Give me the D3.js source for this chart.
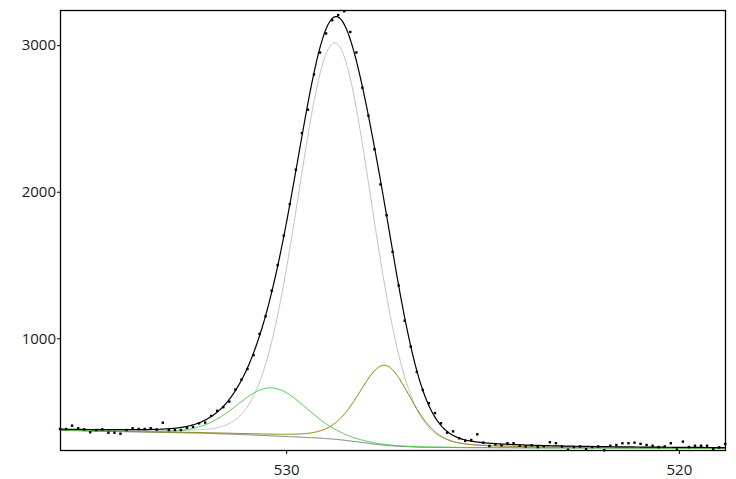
<!DOCTYPE html>
<html><head><meta charset="utf-8">
<script src="https://cdn.jsdelivr.net/npm/d3@7"></script>
<style>body{margin:0;background:#fff}svg{display:block}</style>
</head><body>
<svg id="c" width="736" height="479"></svg>
<script>
// ---- data ----
const xTicks = [530, 520];
const yTicks = [1000, 2000, 3000];
const xDomain = [535.76, 518.80];
const yDomain = [231, 3240];
const energyStart = 535.76;
const energyStep = 0.154;
const counts = [
 381,381,404,386,378,359,374,379,356,356,
 349,374,386,381,381,386,377,424,374,374,
 374,390,395,420,425,470,505,530,568,650,
 718,790,885,1030,1150,1325,1500,1700,1915,2150,
 2400,2560,2800,2950,3080,3170,3205,3232,3090,2950,
 2710,2520,2290,2050,1840,1590,1360,1120,943,770,
 647,557,490,420,356,365,318,300,306,345,
 288,265,277,270,284,284,268,262,270,258,
 264,291,284,262,240,258,262,243,258,262,
 236,267,272,284,284,288,280,272,267,258,
 262,284,240,295,258,267,267,267,245,256,
 279];
const bgEnergy = [535.76,534.0,532.2,531.0,530.0,529.2,528.7,528.2,527.7,527.2,526.6,525.5,523.0,518.8];
const bgCounts = [372,362,353,342,330,320,310,294,276,264,257,254,252,250];
const peakCenter = [528.76, 530.37, 527.49];
const peakHeight = [2705, 327, 545];
const peakFwhm = [2.21, 2.11, 1.58];
const peakLorentz = [0.08, 0.10, 0.30];

// ---- styles ----
const peakColors = ["#c3c3c3", "#3ccc3c", "#858000"];
const L = 60, R = 726, T = 10, B = 451;

const svg = d3.select("#c");
const x = d3.scaleLinear().domain(xDomain).range([L, R]);
const y = d3.scaleLinear().domain(yDomain).range([B, T]);
const bg = d3.scaleLinear().domain(bgEnergy).range(bgCounts).clamp(true);

function peak(k, e) {
  const d = (e - peakCenter[k]) / peakFwhm[k];
  const m = peakLorentz[k];
  return peakHeight[k] * ((1 - m) * Math.exp(-4 * Math.LN2 * d * d) + m / (1 + 4 * d * d));
}

const grid = d3.range(xDomain[0], xDomain[1] - 0.001, -0.02);
const line = d3.line().x(d => x(d[0])).y(d => y(d[1]));

svg.append("clipPath").attr("id", "clip").append("rect")
  .attr("x", L).attr("y", T).attr("width", R - L).attr("height", B - T);
const g = svg.append("g").attr("clip-path", "url(#clip)");

// background
g.append("path").datum(grid.map(e => [e, bg(e)]))
  .attr("d", line).attr("fill", "none").attr("stroke", "#7a7a7a").attr("stroke-width", 1);

// components
[0, 2, 1].forEach(k => {
  g.append("path").datum(grid.map(e => [e, bg(e) + peak(k, e)]))
    .attr("d", line).attr("fill", "none").attr("stroke", peakColors[k]).attr("stroke-width", 1);
});

// envelope
g.append("path").datum(grid.map(e => [e, bg(e) + peak(0, e) + peak(1, e) + peak(2, e)]))
  .attr("d", line).attr("fill", "none").attr("stroke", "#000").attr("stroke-width", 1.2);

// data points
const pts = counts.map((v, i) => [energyStart - energyStep * i, v]);
svg.append("g").selectAll("rect").data(pts).join("rect")
  .attr("x", d => x(d[0]) - 1.2).attr("y", d => y(d[1]) - 1.2)
  .attr("width", 2.4).attr("height", 2.4).attr("fill", "#000");

// frame
svg.append("rect").attr("x", L + 0.5).attr("y", T + 0.5)
  .attr("width", R - L - 1).attr("height", B - T - 1)
  .attr("fill", "none").attr("stroke", "#000").attr("stroke-width", 1.3);

// axes
const fontFam = "'Open Sans', 'DejaVu Sans', sans-serif";
const ya = svg.append("g").attr("transform", `translate(${L},0)`)
  .call(d3.axisLeft(y).tickValues(yTicks).tickSize(3).tickPadding(1).tickFormat(d3.format("d")));
ya.select(".domain").remove();
const xa = svg.append("g").attr("transform", `translate(0,${B})`)
  .call(d3.axisBottom(x).tickValues(xTicks).tickSize(3).tickPadding(10).tickFormat(d3.format("d")));
xa.select(".domain").remove();
svg.selectAll(".tick text").attr("font-family", fontFam).attr("font-size", 15).attr("fill", "#1a1a1a");
svg.selectAll(".tick line").attr("stroke", "#000");
</script>
</body></html>
